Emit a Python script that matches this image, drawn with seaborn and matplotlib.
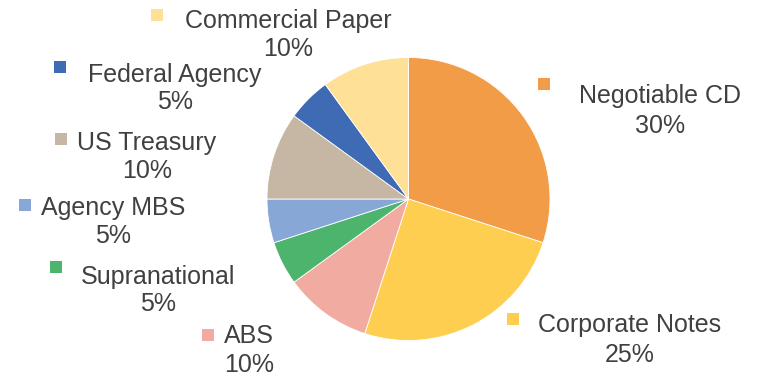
import matplotlib
matplotlib.use("Agg")
import matplotlib.pyplot as plt
import seaborn as sns

sns.set_theme(style="white")
plt.rcParams["font.family"] = ["Liberation Sans", "DejaVu Sans"]

# Portfolio allocation by security type (clockwise from 12 o'clock)
categories = ["Negotiable CD", "Corporate Notes", "ABS", "Supranational",
              "Agency MBS", "US Treasury", "Federal Agency", "Commercial Paper"]
shares = [30, 25, 10, 5, 5, 10, 5, 10]
colors = ["#F39C48", "#FECE50", "#F2ABA0", "#4DB46E",
          "#87A7D6", "#C6B7A4", "#3F6AB4", "#FEE196"]

W, H = 763, 376
CX, CY, R = 408.5, 199.0, 141.5

def to_data(px, py):
    return (px - CX) / R, (CY - py) / R

fig = plt.figure(figsize=(W / 100, H / 100), dpi=100)
ax = fig.add_axes([0, 0, 1, 1])
ax.pie(shares, colors=colors, startangle=90, counterclock=False,
       wedgeprops=dict(edgecolor="white", linewidth=0.6))
ax.set_xlim(-CX / R, (W - CX) / R)
ax.set_ylim((CY - H) / R, CY / R)
ax.set_aspect("equal")
ax.axis("off")

# label layout in pixels: marker centre, text centre x, name baseline, value baseline
label_pos = {
    "Negotiable CD":    ((544, 84), 660, 103, 133),
    "Corporate Notes":  ((513, 319), 630, 332, 362),
    "ABS":              ((208, 335), 249, 343, 372),
    "Supranational":    ((56, 267), 158, 284, 311),
    "Agency MBS":       ((25, 205), 113, 215, 243),
    "US Treasury":      ((61, 139), 147, 150, 178),
    "Federal Agency":   ((60, 67), 175, 82, 109),
    "Commercial Paper": ((157, 15), 288, 28, 56),
}

text_style = dict(ha="center", va="baseline", fontsize=18, color="#404040")
for name, share, col in zip(categories, shares, colors):
    (mx, my), tx, ny, vy = label_pos[name]
    ax.scatter(*to_data(mx, my), marker="s", s=85, color=col, linewidths=0)
    ax.text(*to_data(tx, ny), name, **text_style)
    ax.text(*to_data(tx, vy), f"{share}%", **text_style)

fig.savefig("out.png", dpi=100, facecolor="white")
